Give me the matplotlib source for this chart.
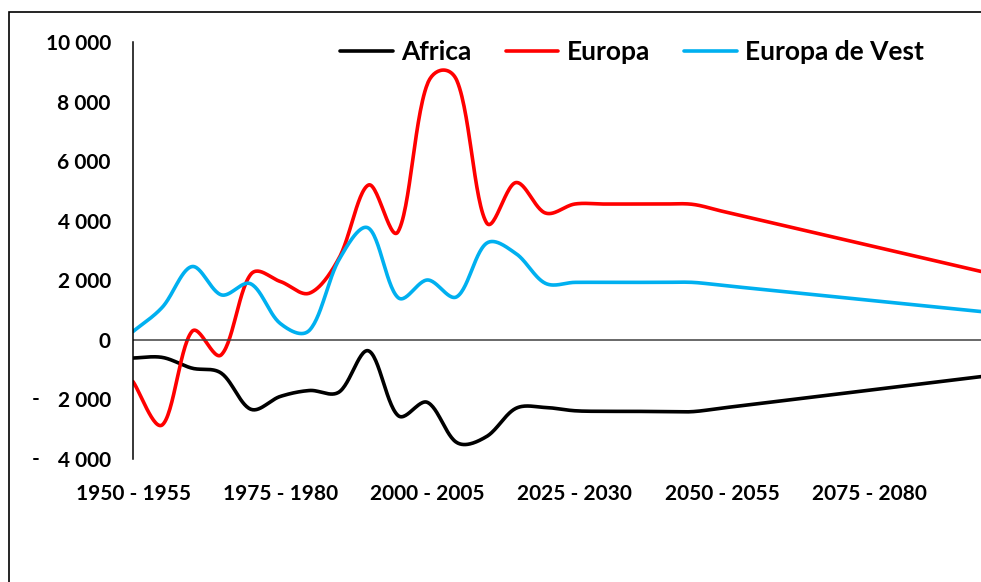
import numpy as np
import matplotlib.pyplot as plt
from matplotlib.patches import Rectangle
from matplotlib.transforms import blended_transform_factory

plt.rcParams['font.family'] = ['Lato', 'DejaVu Sans']
plt.rcParams['font.weight'] = 'bold'

# 5-year periods 1950-1955 ... 2095-2100
periods = ["%d - %d" % (y, y + 5) for y in range(1950, 2100, 5)]

africa = [-610, -590, -950, -1120, -2330, -1900, -1700, -1750, -370, -2540,
          -2100, -3450, -3250, -2300, -2270, -2380, -2400, -2400, -2410, -2410,
          -2290, -2170, -2050, -1930, -1810, -1690, -1570, -1450, -1330, -1210]
europa = [-1400, -2850, 280, -500, 2200, 1960, 1570, 2750, 5200, 3630,
          8600, 8700, 3940, 5280, 4260, 4560, 4560, 4560, 4560, 4550,
          4320, 4090, 3860, 3630, 3400, 3170, 2940, 2710, 2480, 2250]
europa_vest = [280, 1100, 2460, 1510, 1880, 550, 330, 2700, 3750, 1420,
               2010, 1450, 3240, 2900, 1900, 1930, 1930, 1930, 1930, 1930,
               1830, 1730, 1630, 1530, 1430, 1330, 1230, 1130, 1030, 930]

yticks = [-4000, -2000, 0, 2000, 4000, 6000, 8000, 10000]
label_every = 5

# rough pixel scale of the plot, used so the smoothing behaves like excel
PX_X = 29.46
PX_Y = 0.0298


def smooth(xs, ys, n=30):
    # bezier through every point, handles partly scaled by chord lengths
    P = np.column_stack([np.asarray(xs, float) * PX_X, np.asarray(ys, float) * PX_Y])
    m = len(P)
    tang = np.zeros_like(P)
    hin = np.zeros(m)
    hout = np.zeros(m)
    for i in range(m):
        a = P[max(i - 1, 0)]
        b = P[min(i + 1, m - 1)]
        tang[i] = b - a
        dp = np.hypot(*(P[i] - a))
        dn = np.hypot(*(b - P[i]))
        tot = dp + dn
        if tot == 0:
            continue
        hin[i] = 0.5 * (1 / 6 + dp / tot / 3)
        hout[i] = 0.5 * (1 / 6 + dn / tot / 3)
    t = np.linspace(0, 1, n)[:, None]
    out = []
    for i in range(m - 1):
        p0 = P[i]
        p3 = P[i + 1]
        p1 = p0 + tang[i] * hout[i]
        p2 = p3 - tang[i + 1] * hin[i + 1]
        b = ((1 - t) ** 3) * p0 + 3 * ((1 - t) ** 2) * t * p1 + 3 * (1 - t) * t ** 2 * p2 + t ** 3 * p3
        out.append(b)
    out = np.vstack(out)
    return out[:, 0] / PX_X, out[:, 1] / PX_Y


fig = plt.figure(figsize=(9.81, 5.82), dpi=100)
fig.patches.append(Rectangle((9 / 981, -0.1), 1.2, 1 - 12 / 582 + 0.1,
                             transform=fig.transFigure, fill=False,
                             edgecolor='black', linewidth=1.2))

ax = fig.add_axes([133 / 981, 1 - 459 / 582, (987 - 133) / 981, (459 - 42) / 582])

xs = np.arange(len(periods))
for vals, col, name in [(africa, 'black', 'Africa'),
                        (europa, '#FF0000', 'Europa'),
                        (europa_vest, '#00B0F0', 'Europa de Vest')]:
    sx, sy = smooth(xs, vals)
    ax.plot(sx, sy, color=col, lw=2.6, label=name, solid_capstyle='round')

ax.set_xlim(0, len(periods) - 1)
ax.set_ylim(-4000, 10000)
ax.axhline(0, color='#404040', lw=1.1)

for s in ['top', 'right', 'bottom']:
    ax.spines[s].set_visible(False)
ax.spines['left'].set_linewidth(1.1)

ax.set_xticks(xs[::label_every])
ax.set_xticklabels(periods[::label_every], fontsize=15, fontweight='bold')
ax.tick_params(axis='x', length=0, pad=18)

ax.set_yticks(yticks)
ax.set_yticklabels(["{:,}".format(abs(v)).replace(",", " ") for v in yticks],
                   fontsize=15, fontweight='bold')
ax.tick_params(axis='y', length=0, pad=16)
trans = blended_transform_factory(fig.transFigure, ax.transData)
for v in yticks:
    if v < 0:
        ax.text(36 / 981, v, "-", transform=trans, ha='center', va='center',
                fontsize=15, fontweight='bold')

fig.legend(loc='center', bbox_to_anchor=(632 / 981, 1 - 52 / 582), ncol=3,
           frameon=False, handlelength=2.0, handletextpad=0.3,
           columnspacing=1.3, prop={'weight': 'bold', 'size': 19})

plt.savefig('out.png', dpi=100)
